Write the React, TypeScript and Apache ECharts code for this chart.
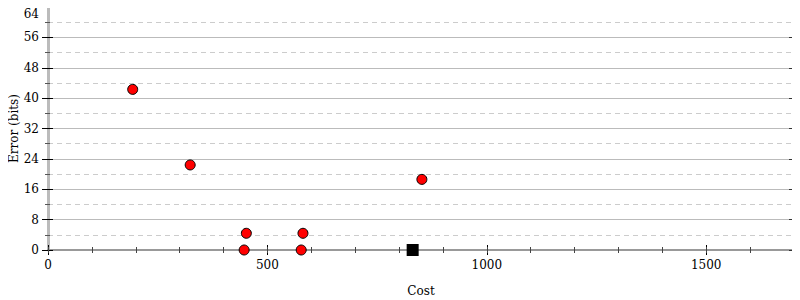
import React, { useEffect, useRef } from "react";
import * as echarts from "echarts";

const redPoints: [number, number][] = [
  [193, 42.3],
  [324, 22.4],
  [452, 4.4],
  [447, 0],
  [581, 4.4],
  [577, 0],
  [852, 18.6],
];
const blackPoints: [number, number][] = [[831, 0]];

const X_MIN = 0;
const X_MAX = 1700;
const X_MAJOR = 500;
const X_MINOR = 100;
const Y_MIN = 0;
const Y_MAX = 64;
const Y_MAJOR = 8;

const FONT = "DejaVu Serif";

export default function App() {
  const ref = useRef<HTMLDivElement>(null);
  useEffect(() => {
    if (!ref.current) return;
    const chart = echarts.init(ref.current, undefined, { renderer: "svg" });
    const hiddenX = (extra: any) => ({
      type: "value",
      position: "bottom",
      min: X_MIN,
      max: X_MAX,
      axisLine: { show: false, onZero: false },
      axisLabel: { show: false },
      splitLine: { show: false },
      ...extra,
    });
    const hiddenY = (extra: any) => ({
      type: "value",
      min: Y_MIN,
      max: Y_MAX,
      interval: Y_MAJOR,
      axisLine: { show: false, onZero: false },
      axisLabel: { show: false },
      splitLine: { show: false },
      ...extra,
    });
    chart.setOption({
      animation: false,
      grid: {
        left: 48,
        right: 6,
        top: 7,
        bottom: 50,
        containLabel: false,
        outerBoundsMode: "none",
        show: true,
        borderColor: "#999",
        borderWidth: 2,
        backgroundColor: "transparent",
      },
      xAxis: [
        {
          type: "value",
          position: "bottom",
          min: X_MIN,
          max: X_MAX,
          interval: X_MAJOR,
          axisLine: { show: true, onZero: false, lineStyle: { color: "#999", width: 2 } },
          axisTick: { show: true, length: 5, lineStyle: { color: "#000", width: 1 } },
          axisLabel: {
            showMaxLabel: false,
            margin: 9,
            fontFamily: FONT,
            fontSize: 12,
            color: "#000",
            formatter: (v: number) => String(v),
          },
          splitLine: { show: false },
          name: "Cost",
          nameLocation: "middle",
          nameGap: 35,
          nameMoveOverlap: false,
          nameTextStyle: { fontFamily: FONT, fontSize: 12, color: "#000" },
        },
        hiddenX({
          interval: X_MAJOR,
          axisTick: { show: true, inside: true, length: 5, lineStyle: { color: "#000", width: 1 } },
        }),
        hiddenX({
          interval: X_MINOR,
          axisTick: { show: true, length: 3, lineStyle: { color: "#444", width: 1 } },
        }),
        hiddenX({
          interval: X_MINOR,
          axisTick: { show: true, inside: true, length: 3, lineStyle: { color: "#444", width: 1 } },
        }),
      ],
      yAxis: [
        {
          type: "value",
          position: "left",
          min: Y_MIN,
          max: Y_MAX,
          interval: Y_MAJOR,
          axisLine: { show: true, onZero: false, lineStyle: { color: "#bbb", width: 3 } },
          axisTick: { show: true, length: 6, lineStyle: { color: "#000", width: 1 } },
          minorTick: { show: true, splitNumber: 2, length: 3, lineStyle: { color: "#555", width: 1 } },
          axisLabel: {
            margin: 9,
            fontFamily: FONT,
            fontSize: 12,
            color: "#000",
            verticalAlign: "middle",
            showMaxLabel: true,
            formatter: (v: number) => (v === Y_MAX ? "{top|" + v + "}" : String(v)),
            rich: {
              top: {
                fontFamily: FONT,
                fontSize: 12,
                color: "#000",
                padding: [13, 0, 0, 0],
              },
            },
          },
          splitLine: { show: true, lineStyle: { color: "#bbb", width: 1 } },
          minorSplitLine: { show: true, lineStyle: { color: "#ccc", width: 1, type: [5, 4] } },
          name: "Error (bits)",
          nameLocation: "middle",
          nameGap: 28,
          nameMoveOverlap: false,
          nameTextStyle: { fontFamily: FONT, fontSize: 12, color: "#000" },
        },
        hiddenY({
          position: "left",
          axisTick: { show: true, inside: true, length: 5, lineStyle: { color: "#000", width: 1 } },
          minorTick: { show: true, splitNumber: 2, length: 2, lineStyle: { color: "#555", width: 1 } },
        }),
        hiddenY({
          position: "right",
          axisLine: { show: true, onZero: false, lineStyle: { color: "#bbb", width: 3 } },
          axisTick: { show: true, length: 5, lineStyle: { color: "#333", width: 1 } },
          minorTick: { show: true, splitNumber: 2, length: 2, lineStyle: { color: "#555", width: 1 } },
        }),
        hiddenY({
          position: "right",
          axisTick: { show: true, inside: true, length: 5, lineStyle: { color: "#333", width: 1 } },
          minorTick: { show: true, splitNumber: 2, length: 2, lineStyle: { color: "#555", width: 1 } },
        }),
      ],
      series: [
        {
          type: "scatter",
          xAxisIndex: 0,
          yAxisIndex: 0,
          data: redPoints,
          symbol: "circle",
          symbolSize: 10,
          clip: true,
          itemStyle: { color: "#ff0000", borderColor: "#000", borderWidth: 1, opacity: 1 },
        },
        {
          type: "scatter",
          xAxisIndex: 0,
          yAxisIndex: 0,
          data: blackPoints,
          symbol: "rect",
          symbolSize: 12,
          clip: true,
          itemStyle: { color: "#000", opacity: 1 },
        },
      ],
    });
    return () => chart.dispose();
  }, []);
  return <div ref={ref} style={{ width: 800, height: 300, marginLeft: -8, marginTop: -8 }} />;
}
